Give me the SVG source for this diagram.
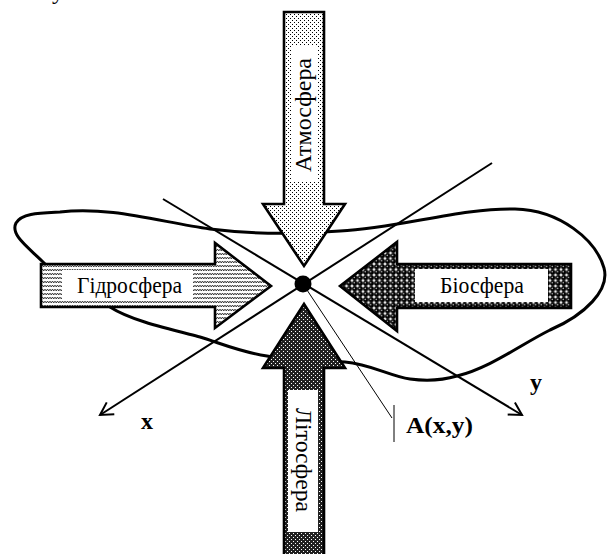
<svg xmlns="http://www.w3.org/2000/svg" width="607" height="554" viewBox="0 0 607 554">
<style>
.arrow{stroke:#000;stroke-width:2.6;stroke-linejoin:miter}
.lbl{fill:#fff;stroke:none}
.t{font-family:"Liberation Serif","Times New Roman",serif;font-size:24px;fill:#000}
.b{font-family:"Liberation Serif","Times New Roman",serif;font-size:24px;font-weight:bold;fill:#000}
.axis{stroke:#000;stroke-width:2;fill:none}
.thin{stroke:#000;stroke-width:1;fill:none}
.loop{stroke:#000;stroke-width:3;fill:none}
</style>
<defs>
<pattern id="pAtm" width="4" height="4" patternUnits="userSpaceOnUse">
<rect width="4" height="4" fill="#fff"/>
<rect x="0" y="0" width="1" height="1" fill="#000"/>
<rect x="2" y="2" width="1" height="1" fill="#000"/>
</pattern>
<pattern id="pHyd" width="5" height="4" patternUnits="userSpaceOnUse">
<rect width="5" height="4" fill="#fff"/>
<path d="M0,1 L1.25,3 L2.5,1 L3.75,3 L5,1" stroke="#000" stroke-width="0.7" fill="none"/>
</pattern>
<pattern id="pBio" width="5.5" height="5.5" patternUnits="userSpaceOnUse">
<rect width="5.5" height="5.5" fill="#fff"/>
<circle cx="2.75" cy="2.75" r="2.7" fill="#000"/>
<circle cx="2.2" cy="2.2" r="0.7" fill="#fff"/>
</pattern>
<pattern id="pLit" width="4" height="4" patternUnits="userSpaceOnUse">
<rect width="4" height="4" fill="#222"/>
<rect x="1" y="1" width="1" height="1" fill="#fff"/>
<rect x="3" y="3" width="1" height="1" fill="#fff"/>
</pattern>
<marker id="open" viewBox="-15 -9 17 18" refX="0" refY="0" markerWidth="17" markerHeight="18" markerUnits="userSpaceOnUse" orient="auto">
<path d="M-12.5,-7 L0,0 L-12.5,7" fill="none" stroke="#000" stroke-width="2"/>
</marker>
</defs>
<rect width="607" height="554" fill="#fff"/>
<text class="t" x="52" y="-1.5" font-size="20">у</text>

<g id="boundary">
<path class="loop" d="M60,212 C110,206 160,222 210,229 C250,234 300,234 340,231 C400,228 460,208 515,209 C560,210 596,240 604,268 C610,290 585,315 550,330 C520,345 490,368 457,376 C440,381 425,381 410,379 C390,376 370,364 345,362 C320,360 290,360 267,356 C240,352 220,343 200,337 C165,328 130,320 110,307 C90,295 60,280 43,262 C28,247 10,235 16,223 C22,213 40,213 60,212 Z"/>
</g>

<g id="connectors">
<line class="axis" x1="163" y1="199" x2="522" y2="415" marker-end="url(#open)"/>
<line class="axis" x1="492" y1="163" x2="100" y2="415" marker-end="url(#open)"/>
<line class="thin" x1="305" y1="287" x2="392" y2="418"/>
<line class="thin" x1="394" y1="405" x2="394" y2="442"/>
</g>

<g id="atmosphere">
<polygon class="arrow" fill="url(#pAtm)" points="284,12 324,12 324,204 345,204 304,266 263,204 284,204"/>
<rect class="lbl" x="291" y="46" width="26" height="136"/>
<text class="t" transform="translate(311,115) rotate(-90)" text-anchor="middle" textLength="114" lengthAdjust="spacingAndGlyphs">Атмосфера</text>
</g>

<g id="hydrosphere">
<polygon class="arrow" fill="url(#pHyd)" points="41,264 215,264 215,243 271,286 215,328 215,307 41,307"/>
<rect class="lbl" x="62" y="270" width="131" height="30"/>
<text class="t" x="129.5" y="293" text-anchor="middle" textLength="105" lengthAdjust="spacingAndGlyphs">Гідросфера</text>
</g>

<g id="biosphere">
<polygon class="arrow" fill="url(#pBio)" points="571,264 397,264 397,242 340,286 397,331 397,308 571,308"/>
<rect class="lbl" x="415" y="269" width="133" height="33"/>
<text class="t" x="482" y="293" text-anchor="middle" textLength="84" lengthAdjust="spacingAndGlyphs">Біосфера</text>
</g>

<g id="lithosphere">
<polygon class="arrow" fill="url(#pLit)" points="284,556 324,556 324,368 345,368 304,304 263,368 284,368"/>
<rect class="lbl" x="288" y="390" width="30" height="142"/>
<text class="t" transform="translate(296,460) rotate(90)" text-anchor="middle" textLength="104" lengthAdjust="spacingAndGlyphs">Літосфера</text>
</g>

<g id="pointA">
<circle cx="303" cy="284" r="8.5" fill="#000"/>
</g>

<g id="labels">
<text class="b" x="141" y="429">x</text>
<text class="b" x="530" y="390">y</text>
<text class="b" x="406" y="433" textLength="67" lengthAdjust="spacingAndGlyphs">A(x,y)</text>
</g>
</svg>
